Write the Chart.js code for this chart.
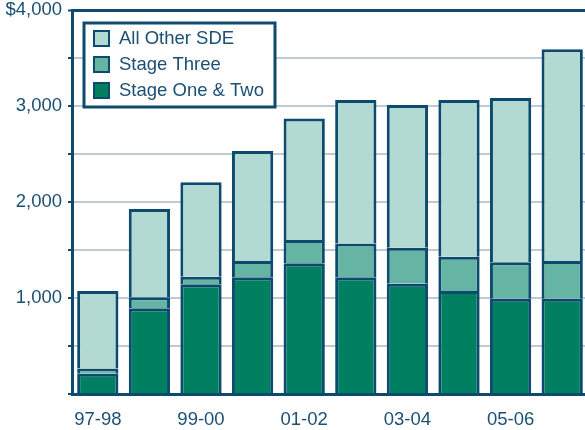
<!DOCTYPE html>
<html>
<head>
<meta charset="utf-8">
<script src="https://cdn.jsdelivr.net/npm/chart.js@4/dist/chart.umd.min.js"></script>
<style>
  html,body{margin:0;padding:0;background:#fff;overflow:hidden;}
  #wrap{width:590px;height:430px;}
</style>
</head>
<body>
<div id="wrap"><canvas id="sdeChart" width="590" height="430"></canvas></div>
<script>
const years = ['97-98','98-99','99-00','00-01','01-02','02-03','03-04','04-05','05-06','06-07'];
const stageOneTwo = [210, 893, 1142, 1215, 1361, 1215, 1149, 1073, 993, 993];
const stageThree  = [55, 114, 80, 170, 243, 354, 375, 357, 379, 392];
const allOther    = [808, 920, 983, 1146, 1266, 1493, 1486, 1632, 1711, 2205];

const NAVY = '#0c4a6e';
const TEXT = '#1b4f74';
const GRID = '#bccbd6';
const FONT = '"Liberation Sans", Arial, sans-serif';
const FSIZE = 18.5;

// boxed legend in the top-left corner of the plot, top series first
const boxLegend = {
  id:'boxLegend',
  afterDraw(chart){
    const ctx = chart.ctx, a = chart.chartArea;
    const x = a.left + 12, y = a.top + 13;
    ctx.save();
    ctx.fillStyle = '#fff';
    ctx.fillRect(x, y, 191, 84);
    ctx.lineWidth = 3;
    ctx.strokeStyle = NAVY;
    ctx.strokeRect(x, y, 191, 84);
    ctx.font = FSIZE + 'px ' + FONT;
    ctx.textBaseline = 'middle';
    const sets = chart.data.datasets.slice().reverse();
    sets.forEach((ds,i)=>{
      const cy = y + 15 + i*26;
      ctx.fillStyle = ds.backgroundColor;
      ctx.fillRect(x+10, cy-7, 15, 15);
      ctx.lineWidth = 2;
      ctx.strokeRect(x+10, cy-7, 15, 15);
      ctx.fillStyle = TEXT;
      ctx.fillText(ds.label, x+35, cy+1);
    });
    ctx.restore();
  }
};

const common = {borderColor:NAVY, borderWidth:3, borderSkipped:'bottom', barPercentage:0.8, categoryPercentage:1};

new Chart(document.getElementById('sdeChart'),{
  type:'bar',
  data:{
    labels: years,
    datasets:[
      {label:'Stage One & Two', data:stageOneTwo, backgroundColor:'#008061', ...common},
      {label:'Stage Three',     data:stageThree,  backgroundColor:'#66b4a3', ...common},
      {label:'All Other SDE',   data:allOther,    backgroundColor:'#b3dad2', ...common}
    ]
  },
  options:{
    responsive:false,
    animation:false,
    layout:{padding:{top:10, right:2, left:0, bottom:0}},
    plugins:{legend:{display:false}, tooltip:{enabled:false}},
    scales:{
      x:{
        stacked:true,
        grid:{display:true, drawOnChartArea:false, drawTicks:false},
        border:{display:true, color:NAVY, width:3},
        ticks:{
          autoSkip:false, maxRotation:0, padding:15,
          color:TEXT, font:{family:FONT, size:FSIZE},
          callback:(v,i)=> i%2===0 ? years[i] : ''
        },
        afterFit:s=>{ s.height = 36; s.paddingLeft = 0; s.paddingRight = 0; }
      },
      y:{
        stacked:true,
        min:0, max:4000,
        ticks:{
          stepSize:500, padding:6,
          color:TEXT, font:{family:FONT, size:FSIZE},
          callback:v=> v===4000 ? '$4,000' : (v>0 && v%1000===0 ? v.toLocaleString('en-US') : '')
        },
        grid:{
          color:c=> c.tick && c.tick.value===4000 ? NAVY : GRID,
          lineWidth:c=> c.tick && c.tick.value===4000 ? 3 : 2,
          tickColor:NAVY, tickLength:4, tickWidth:2
        },
        border:{display:true, color:NAVY, width:3},
        afterFit:s=>{ s.width = 72; s.paddingTop = 0; s.paddingBottom = 0; }
      }
    }
  },
  plugins:[boxLegend]
});
</script>
</body>
</html>
